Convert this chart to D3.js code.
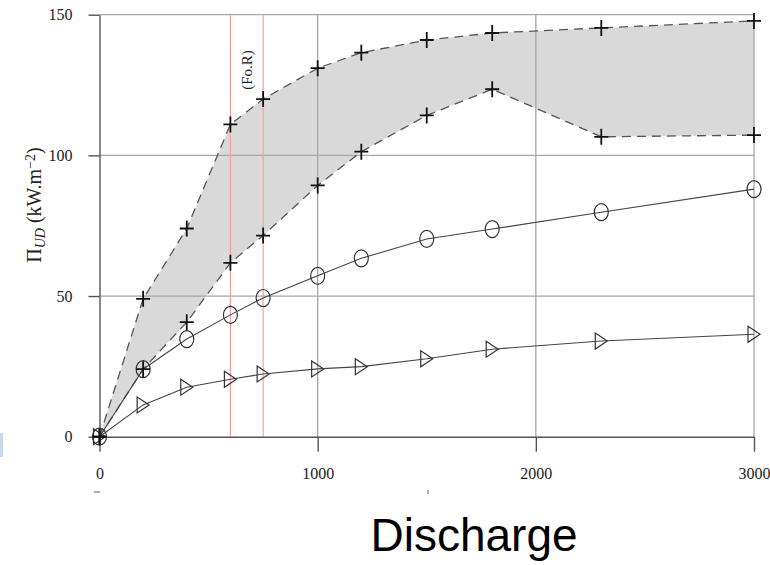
<!DOCTYPE html>
<html>
<head>
<meta charset="utf-8">
<script src="https://cdn.jsdelivr.net/npm/d3@7"></script>
<style>
  body { margin: 0; background: #fff; }
  svg { display: block; }
</style>
</head>
<body>
<div id="Chart"></div>
<script>
// Values
const discharge = [0, 200, 400, 600, 750, 1000, 1200, 1500, 1800, 2300, 3000];
const upperBound = [0, 49, 74, 111, 120, 131, 136.5, 141, 143.5, 145.3, 147.8];
const lowerBound = [0, 24, 40.7, 61.8, 71.5, 89.3, 101.3, 114.2, 123.5, 106.6, 107.2];
const circleSeries = [0, 24, 34.7, 43.3, 49.3, 57.2, 63.4, 70.3, 73.8, 79.8, 88.0];
const triangleSeries = [0, 11.3, 17.6, 20.4, 22.3, 24.1, 24.9, 27.7, 31.1, 34, 36.4];
const foRLines = [600, 750];
const xMajor = [0, 1000, 2000, 3000];
const yMajor = [0, 50, 100, 150];

const width = 770, height = 565;
const serif = '"Liberation Serif", "DejaVu Serif", serif';

const x = d3.scaleLinear().domain([0, 3000]).range([99.5, 754]);
const y = d3.scaleLinear().domain([0, 150]).range([436.7, 14.7]);

const svg = d3.select("#Chart")
  .append("svg")
  .attr("width", width)
  .attr("height", height);

const rows = discharge.map((d, i) => ({
  x: d, up: upperBound[i], lo: lowerBound[i], c: circleSeries[i], t: triangleSeries[i]
}));

// shaded band between the two + curves
svg.append("path")
  .datum(rows)
  .attr("fill", "#d9d9d9")
  .attr("d", d3.area().x(d => x(d.x)).y0(d => y(d.lo)).y1(d => y(d.up)));

// grid
svg.append("g")
  .selectAll("line")
  .data(yMajor.filter(v => v > 0))
  .enter()
  .append("line")
  .attr("x1", x(0)).attr("x2", x(3000))
  .attr("y1", d => y(d)).attr("y2", d => y(d))
  .attr("stroke", "#a6a6a6")
  .attr("stroke-width", 1.3);

svg.append("g")
  .selectAll("line")
  .data(xMajor.filter(v => v > 0))
  .enter()
  .append("line")
  .attr("x1", d => x(d)).attr("x2", d => x(d))
  .attr("y1", y(0)).attr("y2", y(150))
  .attr("stroke", "#a6a6a6")
  .attr("stroke-width", 1.3);

// Fo.R red lines
svg.append("g")
  .selectAll("line")
  .data(foRLines)
  .enter()
  .append("line")
  .attr("x1", d => x(d)).attr("x2", d => x(d))
  .attr("y1", y(0)).attr("y2", y(150))
  .attr("stroke", "#f4a0a0")
  .attr("stroke-width", 1.2);

svg.append("text")
  .attr("transform", `translate(${(x(foRLines[0]) + x(foRLines[1])) / 2 + 5},70) rotate(-90)`)
  .attr("text-anchor", "middle")
  .style("font-family", serif)
  .style("font-size", "15px")
  .attr("fill", "#222")
  .text("(Fo.R)");

// axes
const xAxis = svg.append("g").attr("transform", `translate(0,${y(0)})`);
xAxis.call(d3.axisBottom(x).tickValues(d3.range(0, 3001, 250)).tickSize(9).tickFormat("").tickSizeOuter(0));
xAxis.call(d3.axisBottom(x).tickValues(xMajor).tickSize(15).tickPadding(16).tickFormat(d3.format("d")).tickSizeOuter(0));

const yAxis = svg.append("g").attr("transform", `translate(${x(0)},0)`);
yAxis.call(d3.axisLeft(y).tickValues(d3.range(0, 151, 10)).tickSize(8).tickFormat("").tickSizeOuter(0));
yAxis.call(d3.axisLeft(y).tickValues(yMajor).tickSize(11).tickPadding(16).tickFormat(d3.format("d")).tickSizeOuter(0));

svg.selectAll(".domain, .tick line")
  .attr("stroke", "#555")
  .attr("stroke-width", 1.4);

svg.selectAll(".tick text")
  .style("font-family", serif)
  .style("font-size", "16px")
  .attr("fill", "#222");

// curves
const line = key => d3.line().x(d => x(d.x)).y(d => y(d[key]));

["up", "lo"].forEach(key => {
  svg.append("path")
    .datum(rows)
    .attr("fill", "none")
    .attr("stroke", "#555")
    .attr("stroke-width", 1.3)
    .attr("stroke-dasharray", "9,6")
    .attr("d", line(key));
});

["c", "t"].forEach(key => {
  svg.append("path")
    .datum(rows)
    .attr("fill", "none")
    .attr("stroke", "#444")
    .attr("stroke-width", 1.1)
    .attr("d", line(key));
});

// markers
svg.append("g")
  .selectAll("ellipse")
  .data(rows)
  .enter()
  .append("ellipse")
  .attr("cx", d => x(d.x))
  .attr("cy", d => y(d.c))
  .attr("rx", 7)
  .attr("ry", 8.5)
  .attr("fill", "none")
  .attr("stroke", "#333")
  .attr("stroke-width", 1.2);

svg.append("g")
  .selectAll("path")
  .data(rows)
  .enter()
  .append("path")
  .attr("transform", d => `translate(${x(d.x)},${y(d.t)})`)
  .attr("d", "M-6,-8L6,0L-6,8Z")
  .attr("fill", "none")
  .attr("stroke", "#333")
  .attr("stroke-width", 1.2);

["up", "lo"].forEach(key => {
  svg.append("g")
    .selectAll("path")
    .data(rows)
    .enter()
    .append("path")
    .attr("transform", d => `translate(${x(d.x)},${y(d[key])})`)
    .attr("d", "M-7,0H7M0,-8V8")
    .attr("stroke", "#111")
    .attr("stroke-width", 1.8);
});

// axis titles
const yTitle = svg.append("text")
  .attr("transform", "translate(41,205) rotate(-90)")
  .attr("text-anchor", "middle")
  .style("font-family", serif)
  .style("font-size", "20px")
  .attr("fill", "#222");
yTitle.append("tspan").text("\u03a0");
yTitle.append("tspan").attr("baseline-shift", "-25%").style("font-size", "14px").style("font-style", "italic").text("UD");
yTitle.append("tspan").text(" (kW.m");
yTitle.append("tspan").attr("baseline-shift", "40%").style("font-size", "14px").text("\u22122");
yTitle.append("tspan").text(")");

svg.append("text")
  .attr("x", 474)
  .attr("y", 551)
  .attr("text-anchor", "middle")
  .style("font-family", '"Liberation Sans", Arial, sans-serif')
  .style("font-size", "46px")
  .attr("fill", "#000")
  .text("Discharge");

// leftover crop marks seen in the source image
svg.append("line").attr("x1", 94).attr("x2", 100).attr("y1", 492).attr("y2", 492)
  .attr("stroke", "#777").attr("stroke-width", 1.2);
svg.append("line").attr("x1", 428).attr("x2", 428).attr("y1", 490).attr("y2", 494)
  .attr("stroke", "#777").attr("stroke-width", 1.2);
svg.append("rect").attr("x", 0).attr("y", 433).attr("width", 3).attr("height", 24)
  .attr("fill", "#c9d8ee");
</script>
</body>
</html>
